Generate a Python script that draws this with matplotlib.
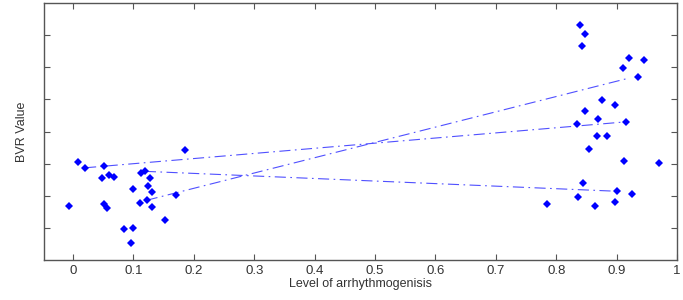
import numpy as np
import matplotlib
matplotlib.use("Agg")
import matplotlib.pyplot as plt

plt.rcParams['font.family'] = ['Liberation Sans', 'DejaVu Sans']

# scatter data
x_pts = [-0.006, 0.009, 0.020, 0.052, 0.048, 0.060, 0.068, 0.051, 0.056, 0.099,
         0.085, 0.099, 0.096, 0.113, 0.120, 0.128, 0.125, 0.130, 0.111, 0.122,
         0.130, 0.153, 0.171, 0.185,
         0.784, 0.839, 0.848, 0.843, 0.921, 0.946, 0.911, 0.936, 0.876, 0.898,
         0.848, 0.870, 0.835, 0.915, 0.867, 0.884, 0.855, 0.913, 0.970, 0.845,
         0.901, 0.925, 0.836, 0.898, 0.865]
y_pts = [1.67, 3.04, 2.87, 2.93, 2.56, 2.66, 2.59, 1.74, 1.62, 2.20,
         0.98, 1.01, 0.52, 2.72, 2.76, 2.55, 2.29, 2.11, 1.76, 1.86,
         1.65, 1.26, 2.01, 3.43,
         1.73, 7.31, 7.03, 6.65, 6.28, 6.23, 5.97, 5.70, 4.98, 4.84,
         4.63, 4.39, 4.22, 4.30, 3.85, 3.85, 3.44, 3.07, 3.02, 2.41,
         2.14, 2.04, 1.95, 1.80, 1.67]

# three trend lines (start, end)
line_x = [[0.020, 0.915], [0.119, 0.900], [0.122, 0.920]]
line_y = [[2.87, 4.30], [2.76, 2.14], [1.86, 5.66]]

xticks = [0, 0.1, 0.2, 0.3, 0.4, 0.5, 0.6, 0.7, 0.8, 0.9, 1]
xticklabels = ['0', '0.1', '0.2', '0.3', '0.4', '0.5', '0.6', '0.7', '0.8', '0.9', '1']
yticks = [1, 2, 3, 4, 5, 6, 7]

fig = plt.figure(figsize=(6.83, 3.0), dpi=100)
ax = fig.add_axes([44/683, 40/300, 633/683, 257/300])

for lx, ly in zip(line_x, line_y):
    ax.plot(lx, ly, color='#5050ff', lw=0.8, dashes=[10, 4, 1.5, 4])
ax.plot(x_pts, y_pts, 'D', color='#0000ff', markersize=3.6, markeredgewidth=0)

ax.set_xlim(-0.048, 1.0)
ax.set_ylim(0, 8)
ax.set_xticks(xticks)
ax.set_xticklabels(xticklabels)
ax.set_yticks(yticks)
ax.set_yticklabels([])
ax.tick_params(direction='in', top=True, right=True, length=4.5, width=0.8,
               colors='#555555', labelcolor='#333333', labelsize=9.5)
for s in ax.spines.values():
    s.set_color('#555555')
    s.set_linewidth(1.0)

ax.set_xlabel('Level of arrhythmogenisis', fontsize=9, color='#333333', labelpad=1)
ax.set_ylabel('BVR Value', fontsize=9, color='#333333', labelpad=8)

fig.savefig('out.png', dpi=100)
